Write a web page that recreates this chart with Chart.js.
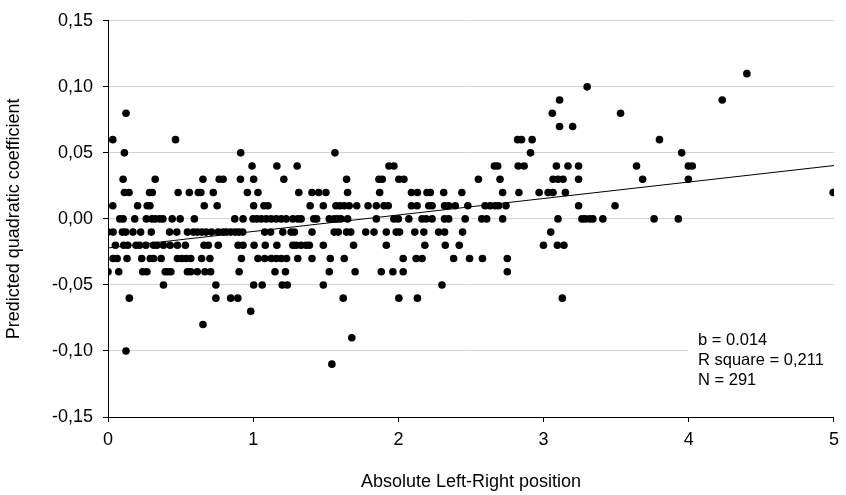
<!DOCTYPE html>
<html>
<head>
<meta charset="utf-8">
<script src="https://cdn.jsdelivr.net/npm/chart.js@4/dist/chart.umd.min.js"></script>
<style>
  html, body { margin: 0; padding: 0; background: #fff; }
  canvas { display: block; }
</style>
</head>
<body>
<canvas id="myChart" width="846" height="495"></canvas>
<script>
// y levels of the predicted coefficient (values come in steps of 0.01)
var coeffLevels = [0.11, 0.10, 0.09, 0.08, 0.07, 0.06, 0.05, 0.04, 0.03, 0.02, 0.01, 0.00,
    -0.01, -0.02, -0.03, -0.04, -0.05, -0.06, -0.07, -0.08, -0.09, -0.10, -0.11];

// absolute left-right positions of the cases at each level (same order as coeffLevels)
var positionsAtLevel = [
    [4.40],
    [3.30],
    [3.11, 4.23],
    [0.124, 3.06, 3.53],
    [3.11, 3.20],
    [0.033, 0.465, 2.821, 2.848, 2.921, 3.798],
    [0.113, 0.914, 1.563, 2.910, 3.951],
    [0.992, 1.163, 1.303, 1.935, 1.969, 2.661, 2.684, 2.825, 2.866, 3.088, 3.168, 3.241, 3.640, 3.997, 4.024],
    [0.104, 0.325, 0.654, 0.766, 0.793, 0.912, 1.003, 1.211, 1.643, 1.866, 1.889, 2.003, 2.038, 2.551,
     2.700, 3.065, 3.099, 3.134, 3.241, 3.682, 3.997],
    [0.113, 0.145, 0.286, 0.305, 0.483, 0.560, 0.622, 0.640, 0.725, 0.960, 1.033, 1.314, 1.405, 1.451,
     1.501, 1.650, 1.871, 2.090, 2.131, 2.197, 2.220, 2.312, 2.437, 2.718, 2.830, 2.969, 3.031, 3.065,
     3.150, 4.994],
    [0.033, 0.204, 0.270, 0.289, 0.663, 0.752, 1.003, 1.074, 1.102, 1.392, 1.483, 1.570, 1.597, 1.627,
     1.661, 1.713, 1.791, 1.848, 1.901, 1.930, 2.090, 2.129, 2.209, 2.232, 2.318, 2.346, 2.392, 2.478,
     2.597, 2.632, 2.666, 2.690, 2.741, 3.241, 3.492],
    [0.081, 0.104, 0.184, 0.264, 0.303, 0.325, 0.355, 0.378, 0.442, 0.497, 0.595, 0.873, 0.930, 0.999,
     1.026, 1.056, 1.090, 1.124, 1.159, 1.193, 1.227, 1.273, 1.307, 1.330, 1.417, 1.437, 1.524, 1.558,
     1.581, 1.604, 1.650, 1.848, 1.969, 1.999, 2.072, 2.163, 2.191, 2.232, 2.318, 2.346, 2.460, 2.574,
     2.608, 2.718, 3.099, 3.264, 3.286, 3.316, 3.339, 3.408, 3.761, 3.928],
    [0.0, 0.035, 0.099, 0.122, 0.172, 0.225, 0.298, 0.424, 0.474, 0.547, 0.588, 0.615, 0.645, 0.675,
     0.713, 0.759, 0.793, 0.816, 0.845, 0.875, 0.900, 0.928, 1.079, 1.120, 1.204, 1.261, 1.284, 1.405,
     1.558, 1.586, 1.643, 1.672, 1.775, 1.832, 1.917, 1.985, 2.008, 2.113, 2.175, 2.277, 2.318, 2.442, 3.049],
    [0.051, 0.108, 0.136, 0.193, 0.218, 0.261, 0.314, 0.337, 0.382, 0.428, 0.478, 0.533, 0.661, 0.691,
     0.759, 0.896, 0.930, 1.006, 1.083, 1.163, 1.273, 1.296, 1.330, 1.364, 1.387, 1.483, 1.691, 1.917,
     2.182, 2.323, 2.419, 2.999, 3.095, 3.140],
    [0.035, 0.063, 0.131, 0.232, 0.291, 0.314, 0.366, 0.478, 0.508, 0.538, 0.570, 0.645, 0.702, 0.919,
     1.033, 1.079, 1.124, 1.159, 1.193, 1.230, 1.307, 1.405, 1.531, 1.627, 2.033, 2.122, 2.163, 2.380,
     2.490, 2.579, 2.750],
    [0.0, 0.074, 0.239, 0.268, 0.394, 0.412, 0.433, 0.547, 0.570, 0.615, 0.668, 0.707, 0.903, 1.150,
     1.222, 1.524, 1.702, 1.882, 1.962, 2.033, 2.750],
    [0.382, 0.743, 1.003, 1.062, 1.200, 1.235, 1.483, 2.300],
    [0.147, 0.743, 0.845, 0.894, 1.620, 2.003, 2.131, 3.129],
    [0.983],
    [0.654],
    [1.679],
    [0.124],
    [1.542]
];

// fitted regression line, ends at x = 0 and x = 5
var fitX = [0, 5];
var fitY = [-0.022, 0.0404];

var yTicks = [-0.15, -0.10, -0.05, 0.00, 0.05, 0.10, 0.15];
var statLines = ['b = 0.014', 'R square = 0,211', 'N = 291'];

var points = [];
coeffLevels.forEach(function (level, i) {
    positionsAtLevel[i].forEach(function (pos) {
        points.push({ x: pos, y: level });
    });
});

var fitPoints = fitX.map(function (x, i) { return { x: x, y: fitY[i] }; });

var FONT = "'Liberation Sans', Arial, sans-serif";

// text box with the regression stats, lower right (white box hides the gridline)
var statsBox = {
    id: 'statsBox',
    afterDraw: function (chart) {
        var ctx = chart.ctx;
        var area = chart.chartArea;
        ctx.save();
        ctx.fillStyle = '#fff';
        ctx.fillRect(688, 326, area.right - 688, 68);
        ctx.fillStyle = '#000';
        ctx.font = '16.5px ' + FONT;
        ctx.textBaseline = 'middle';
        ctx.textAlign = 'left';
        statLines.forEach(function (t, i) {
            ctx.fillText(t, 698, 340 + i * 20);
        });
        ctx.restore();
    }
};

var ctx = document.getElementById('myChart').getContext('2d');
var myChart = new Chart(ctx, {
    type: 'scatter',
    data: {
        datasets: [{
            type: 'line',
            data: fitPoints,
            borderColor: '#000',
            borderWidth: 1,
            pointRadius: 0,
            fill: false
        }, {
            data: points,
            backgroundColor: '#000',
            borderWidth: 0,
            pointRadius: 3.8,
            pointHoverRadius: 3.8
        }]
    },
    options: {
        responsive: false,
        animation: false,
        layout: { padding: { top: 16, right: 8, left: 0, bottom: 0 } },
        plugins: {
            legend: { display: false },
            tooltip: { enabled: false }
        },
        scales: {
            x: {
                type: 'linear',
                min: 0,
                max: 5,
                ticks: {
                    stepSize: 1,
                    color: '#000',
                    padding: 7,
                    font: { family: FONT, size: 18 }
                },
                grid: { drawOnChartArea: false, drawTicks: true, tickLength: 5, tickColor: '#000' },
                border: { color: '#000', width: 1 },
                title: {
                    display: true,
                    text: 'Absolute Left-Right position',
                    color: '#000',
                    font: { family: FONT, size: 18 },
                    padding: { top: 0, bottom: 2 }
                },
                afterFit: function (scale) { scale.height = 78; }
            },
            y: {
                type: 'linear',
                min: -0.15,
                max: 0.15,
                afterBuildTicks: function (scale) {
                    scale.ticks = yTicks.map(function (v) { return { value: v }; });
                },
                ticks: {
                    color: '#000',
                    padding: 10,
                    font: { family: FONT, size: 18 },
                    callback: function (v) { return v.toFixed(2).replace('.', ','); }
                },
                grid: { color: '#d4d4d4', lineWidth: 1, drawTicks: true, tickLength: 5, tickColor: '#000' },
                border: { color: '#000', width: 1 },
                title: {
                    display: true,
                    text: 'Predicted quadratic coefficient',
                    color: '#000',
                    font: { family: FONT, size: 18 },
                    padding: { top: 3, bottom: 0 }
                },
                afterFit: function (scale) { scale.width = 108; }
            }
        }
    },
    plugins: [statsBox]
});
</script>
</body>
</html>
